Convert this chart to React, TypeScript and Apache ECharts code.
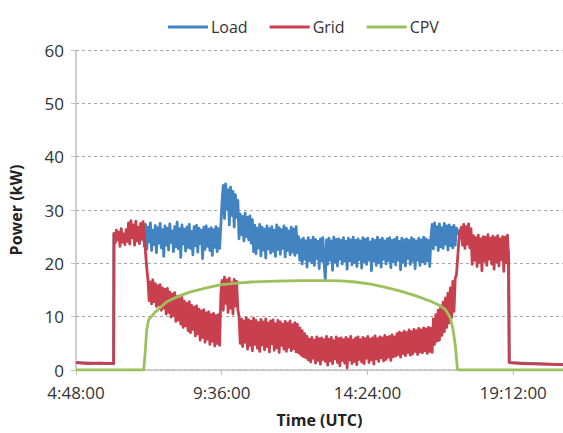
import React, { useEffect, useRef } from "react";
import * as echarts from "echarts";

// Time in hours (UTC), power in kW
const X_MIN = 4.8;
const X_MAX = 20.84;
const X_TICK = 4.8;
const Y_TICKS = [0, 10, 20, 30, 40, 50, 60];
const LEGEND = ["Load", "Grid", "CPV"];

const STEP = 0.04; // sampling step of the dense records (h)

// Grid
const GRID_PRE: [number, number][] = [[4.8, 1.4], [5.2, 1.2], [5.6, 1.3], [6.0, 1.2], [6.04, 1.2]];
const GRID_START = 6.05;
const GRID_NOISY = [
  25.6, 23.8, 26.2, 24.4, 25.9, 23.2, 26.5, 24.0, 25.4, 23.5, 26.3,
  24.1, 27.6, 23.6, 28.0, 24.8, 27.2, 23.4, 27.9, 24.2, 26.8, 23.7, 27.5, 24.5, 27.8,
  25.5, 22.0, 19.2,
  16.8, 13.0, 16.5, 12.4, 16.9, 12.8, 16.2, 11.9, 15.8, 12.2, 16.0, 11.2, 15.4, 11.6, 15.1, 10.5, 15.3, 10.8, 14.6, 9.9,
  14.2, 10.2, 14.5, 9.1, 13.8, 9.4, 13.4, 8.6, 13.6, 8.0, 12.9, 8.3, 12.5, 7.4, 12.8, 7.0, 12.1, 7.6, 11.8, 6.4,
  12.0, 6.8, 11.4, 5.6, 11.1, 6.1, 11.3, 5.2, 10.7, 5.8, 10.9, 4.8, 10.4, 5.4, 10.6, 4.5, 10.2, 5.0, 10.4, 4.6,
  14.0, 16.8, 11.2, 17.4, 12.5, 16.9, 10.8, 17.2, 11.6, 16.4, 10.5, 17.0, 12.0, 16.6, 11.4,
  10.0, 5.0, 9.6, 4.4, 9.2, 5.2, 9.8, 3.9, 9.4, 4.6, 9.1, 3.6, 9.7, 4.8, 9.3, 4.1, 8.9, 3.5, 9.5, 4.7,
  9.0, 3.8, 9.6, 4.4, 8.8, 3.4, 9.2, 4.9, 9.4, 3.7, 8.7, 4.2, 9.3, 3.3, 9.0, 4.6, 8.6, 3.9, 9.1, 3.5,
  8.8, 4.3, 9.2, 3.6, 8.5, 4.0, 8.9, 3.4, 8.6,
  3.2, 7.9, 2.8, 7.4, 2.5, 6.8, 2.3,
  6.3, 1.9, 5.8, 1.5, 6.1, 2.2, 5.6, 1.3, 6.2, 1.8, 5.9, 1.1, 6.0, 2.0, 5.7, 1.6, 6.3, 0.9, 5.8, 1.7,
  6.1, 1.2, 5.5, 2.1, 6.2, 1.4, 5.9, 0.8, 6.0, 1.8, 5.7, 1.3, 6.1, 0.4, 5.8, 1.9, 6.3, 1.2, 5.6, 1.6,
  6.0, 1.0, 6.2, 2.0, 5.7, 1.5, 6.1, 1.2, 5.9, 2.2, 6.3, 1.4, 5.8, 1.9, 6.0, 1.1, 6.4, 2.1, 5.9, 1.6,
  6.2, 2.3, 6.0, 1.7, 6.5, 2.0, 6.1, 2.4, 6.3, 1.8, 6.6, 2.5, 6.2,
  2.6, 6.8, 2.9, 7.1, 2.4, 6.9, 3.1, 7.3, 2.7, 7.0, 3.3, 7.5, 2.8, 7.2, 3.0, 7.6, 3.5, 7.4, 2.9, 7.8,
  3.4, 7.5, 3.2, 7.9, 3.6, 7.7, 3.1, 8.0, 3.5, 7.8, 3.3,
  9.6, 4.8, 10.4, 5.4, 11.2, 5.6, 12.0, 6.5, 12.7, 7.2, 13.5, 8.0, 14.4, 8.8, 15.4, 9.8, 16.6, 11.0, 17.2,
  17.8, 21.0, 24.2, 26.0, 26.8,
  23.4, 27.3, 22.8, 26.9, 23.6, 27.4, 22.9, 26.5,
  19.8, 25.2, 20.6, 24.8, 19.4, 25.3, 20.2, 24.6, 18.6, 25.0, 20.4, 24.9, 19.6, 25.4, 20.8, 24.7,
  19.9, 25.1, 18.9, 24.8, 20.3, 25.2, 19.5, 24.6, 20.7, 25.0, 18.5, 24.9, 20.1, 25.3, 20.6,
];
const GRID_POST: [number, number][] = [[19.07, 1.4], [19.5, 1.2], [20.2, 1.1], [20.84, 1.0]];

// Load
const LOAD_PRE: [number, number][] = [[4.8, 1.4], [6.04, 1.2], [6.05, 25.5], [6.97, 25.5]];
const LOAD_START = 7.01;
const LOAD_NOISY = [
  26.4, 23.2, 27.3, 22.6, 26.8, 24.0, 27.6, 22.4, 26.2, 23.5,
  27.1, 22.0, 26.7, 23.8, 27.5, 22.9, 26.3, 21.3, 27.0, 23.4,
  26.6, 22.5, 27.4, 23.9, 26.1, 22.2, 26.9, 23.1, 27.7, 22.7,
  26.5, 21.1, 27.2, 23.6, 26.4, 22.3, 26.8, 23.0, 27.3, 22.8,
  26.0, 21.6, 26.9, 23.3, 27.1, 22.1, 26.6, 23.7, 26.2, 20.9,
  26.8, 22.6, 27.0, 23.2, 26.4, 22.4, 26.7, 21.5, 26.3, 23.0,
  26.9, 22.2, 26.5, 22.8,
  27.0, 31.5, 34.6, 28.4, 34.9, 30.2, 33.8, 27.2, 34.3, 29.0, 33.5, 26.8, 32.9, 28.6, 31.8,
  24.6, 29.2, 25.4, 28.8, 24.2, 29.4, 25.0, 28.6, 24.4, 28.9, 23.8, 28.2,
  22.2, 27.1, 21.8, 26.6, 22.9, 27.3, 21.4, 26.8, 22.5, 26.4,
  21.0, 27.0, 22.7, 26.5, 21.9, 26.9, 22.3, 26.2, 21.3, 27.2,
  22.6, 26.7, 21.7, 26.3, 22.8, 27.0, 21.2, 26.6, 22.4, 26.1,
  21.6, 26.8, 22.1, 26.4, 21.5, 26.9, 22.0,
  25.0, 20.6, 24.4, 19.9, 24.7, 20.8, 24.2, 19.3, 24.8, 20.5,
  24.3, 20.1, 24.9, 19.6, 24.5, 20.9, 24.1, 19.0, 24.6, 20.4,
  24.8, 20.2, 17.0, 24.4, 19.8, 24.7, 20.6, 24.2, 18.7, 24.9,
  20.3, 24.5, 19.5, 24.6, 20.8, 24.3, 19.9, 24.8, 20.4, 24.1,
  18.9, 24.7, 20.5, 24.4, 19.7, 24.9, 20.2, 24.3, 19.4, 24.6,
  20.7, 24.2, 19.1, 24.8, 20.3, 24.5, 19.8, 24.7, 20.6, 24.0,
  18.6, 24.6, 20.4, 24.3, 19.6, 24.9, 20.1, 24.4, 19.3, 24.7,
  20.8, 24.2, 19.9, 24.6, 20.5, 24.8, 19.2, 24.3, 20.3, 24.5,
  19.7, 24.9, 20.6, 24.1, 18.8, 24.7, 20.2, 24.4, 19.5, 24.6,
  20.9, 24.3, 19.8, 24.8, 20.4, 24.5, 19.0, 24.2, 20.6, 24.7,
  19.6, 24.4, 20.3, 24.9, 19.9, 24.6, 20.5, 24.3, 19.4, 24.8,
  27.3, 22.7, 27.6, 23.5, 26.9, 22.4, 27.4, 23.1, 26.7, 22.8,
  27.5, 23.6, 27.0, 22.5, 27.2, 23.3, 26.8, 22.9, 27.1, 23.4, 26.6,
];
const LOAD_POST: [number, number][] = [[17.45, 25.0], [17.8, 23.5], [19.04, 22.4], [19.07, 1.4], [20.84, 1.0]];

// CPV
const CPV: [number, number][] = [
  [4.8, 0], [7.03, 0], [7.08, 3.5], [7.13, 7.5], [7.19, 9.4], [7.4, 10.8], [7.79, 12.8],
  [8.2, 13.9], [8.6, 14.7], [9.1, 15.4], [9.59, 16.0], [10.1, 16.3], [10.57, 16.5],
  [11.4, 16.65], [12.2, 16.75], [13.0, 16.75], [13.53, 16.7], [14.0, 16.5], [14.51, 16.1],
  [15.0, 15.5], [15.49, 14.8], [16.0, 13.9], [16.48, 12.9], [16.75, 12.2], [16.97, 11.3],
  [17.13, 9.8], [17.22, 7.5], [17.3, 4.3], [17.36, 0.3], [17.4, 0], [20.84, 0],
];

const COLORS: Record<string, string> = { Load: "#4283C1", Grid: "#C83F4E", CPV: "#9CC05B" };
const WIDTHS: Record<string, number> = { Load: 2.8, Grid: 2.8, CPV: 2.8 };

const build = (pre: [number, number][], start: number, vals: number[], post: [number, number][]) => [
  ...pre,
  ...vals.map((v, i) => [start + i * STEP, v]),
  ...post,
];

const fmt = (v: number) => {
  if (Math.abs(v / X_TICK - Math.round(v / X_TICK)) > 1e-6) return "";
  const mins = Math.round(v * 60);
  const h = Math.floor(mins / 60);
  const m = mins % 60;
  return `${h}:${m < 10 ? "0" : ""}${m}:00`;
};

const FONT = "'Open Sans', sans-serif";

export default function App() {
  const ref = useRef<HTMLDivElement>(null);
  useEffect(() => {
    if (!ref.current) return;
    const chart = echarts.init(ref.current, undefined, { renderer: "svg" });
    const lineSeries = (name: string, data: any[]) => ({
      name,
      type: "line",
      data,
      symbol: "none",
      showSymbol: false,
      lineStyle: { width: WIDTHS[name], color: COLORS[name], join: "round" },
      itemStyle: { color: COLORS[name] },
      emphasis: { disabled: true },
    });
    chart.setOption({
      animation: false,
      textStyle: { fontFamily: FONT },
      legend: {
        data: LEGEND,
        left: 163,
        top: 14,
        icon: "rect",
        itemWidth: 40,
        itemHeight: 3,
        itemGap: 22,
        textStyle: { fontFamily: FONT, fontSize: 16, color: "#333", padding: [0, 0, 0, -2] },
      },
      grid: { left: 74, right: 0, top: 50, bottom: 62, containLabel: false },
      xAxis: {
        type: "value",
        min: X_MIN,
        max: X_MAX,
        interval: X_TICK,
        name: "Time (UTC)",
        nameLocation: "middle",
        nameGap: 42,
        nameTextStyle: { fontFamily: FONT, fontSize: 16, fontWeight: "bold", color: "#222" },
        axisLine: { show: true, lineStyle: { color: "#BFBFBF", width: 1.5 } },
        axisTick: { show: true, length: 5, lineStyle: { color: "#BFBFBF" } },
        axisLabel: {
          formatter: fmt, fontFamily: FONT, fontSize: 17, color: "#333", margin: 14,
          lineHeight: 17, showMaxLabel: false,
        },
        splitLine: { show: false },
      },
      yAxis: {
        type: "value",
        min: Y_TICKS[0],
        max: Y_TICKS[Y_TICKS.length - 1],
        interval: 10,
        name: "Power (kW)",
        nameLocation: "middle",
        nameGap: 52,
        nameTextStyle: { fontFamily: FONT, fontSize: 16, fontWeight: "bold", color: "#222" },
        axisLine: { show: true, lineStyle: { color: "#BFBFBF", width: 1.5 } },
        axisTick: { show: true, length: 5, lineStyle: { color: "#BFBFBF" } },
        axisLabel: { fontFamily: FONT, fontSize: 17, color: "#333", margin: 12, lineHeight: 17 },
        splitLine: { show: true, lineStyle: { color: "#A6A6A6", type: [3, 3], width: 1 } },
      },
      series: [
        lineSeries("Load", build(LOAD_PRE, LOAD_START, LOAD_NOISY, LOAD_POST)),
        lineSeries("Grid", build(GRID_PRE, GRID_START, GRID_NOISY, GRID_POST)),
        lineSeries("CPV", CPV),
      ],
    });
    return () => chart.dispose();
  }, []);
  return (
    <div
      ref={ref}
      style={{ position: "fixed", left: 0, top: 0, width: 563, height: 433, background: "#fff" }}
    />
  );
}
